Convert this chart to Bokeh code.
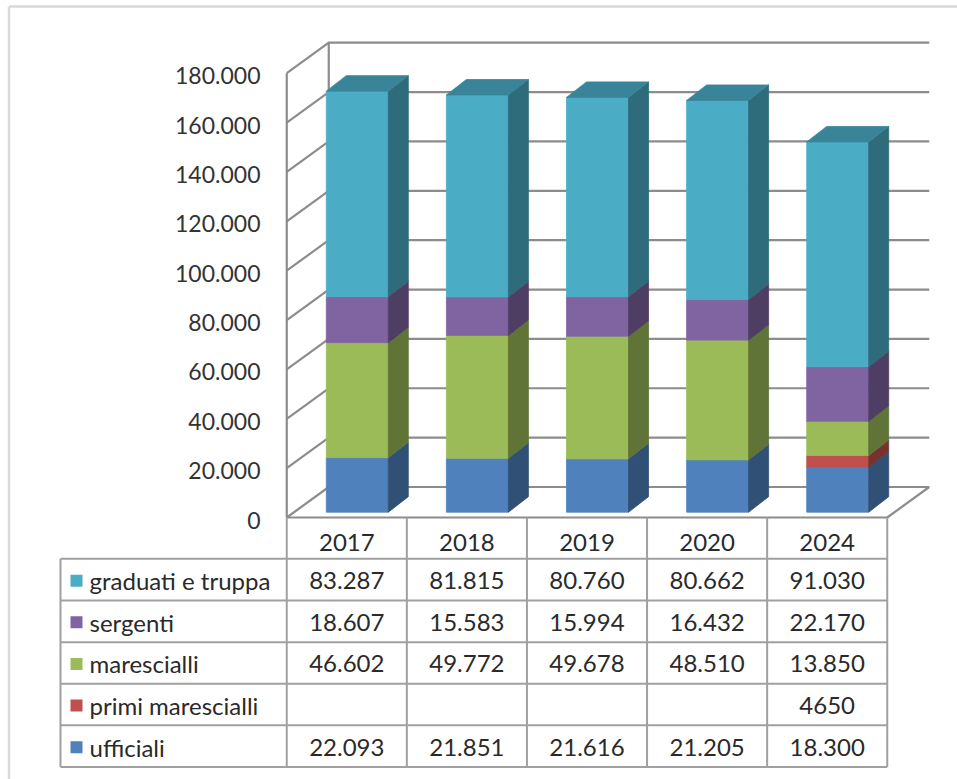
from bokeh.plotting import figure
from bokeh.models import Range1d, ColumnDataSource
from bokeh.core.properties import value
from bokeh.embed import file_html
from bokeh.resources import INLINE

# ---------------- data ----------------
years = ["2017", "2018", "2019", "2020", "2024"]
ufficiali = [22093, 21851, 21616, 21205, 18300]
primi_marescialli = [0, 0, 0, 0, 4650]
marescialli = [46602, 49772, 49678, 48510, 13850]
sergenti = [18607, 15583, 15994, 16432, 22170]
graduati_e_truppa = [83287, 81815, 80760, 80662, 91030]
y_ticks = [0, 20000, 40000, 60000, 80000, 100000, 120000, 140000, 160000, 180000]

# stacking order bottom -> top
series_names = ["ufficiali", "primi marescialli", "marescialli", "sergenti", "graduati e truppa"]
series_values = [ufficiali, primi_marescialli, marescialli, sergenti, graduati_e_truppa]
front_colors = ["#4F81BD", "#C0504D", "#9BBB59", "#8064A2", "#4BACC6"]
side_colors = ["#315075", "#773230", "#607437", "#4F3E64", "#2E6B7B"]
top_colors = ["#3D6493", "#943E3B", "#78914A", "#634E7E", "#3A8499"]


def fmt(v):
    return f"{v:,}".replace(",", ".")


# table labels (the original shows "4650" without separator)
table_labels = {
    "ufficiali": [fmt(v) for v in ufficiali],
    "primi marescialli": ["", "", "", "", "4650"],
    "marescialli": [fmt(v) for v in marescialli],
    "sergenti": [fmt(v) for v in sergenti],
    "graduati e truppa": [fmt(v) for v in graduati_e_truppa],
}

# ---------------- layout constants (pixel based) ----------------
W, H = 957, 779
PX_CAT = 120.1     # px per category
PX_X0 = 346.3      # px of first category centre
PX_Y0 = 517.0      # px of value 0 on the front plane
UPP = 180000 / 444.3   # value units per px


def dx(px):
    return px / PX_CAT


def dy(px):
    return px * UPP


def xa(px):  # absolute px -> x data
    return (px - PX_X0) / PX_CAT


def ya(py):  # absolute px (from top) -> y data
    return (PX_Y0 - py) * UPP


p = figure(width=W, height=H, output_backend="svg", toolbar_location=None,
           x_range=Range1d(xa(0), xa(W)), y_range=Range1d(ya(H), ya(0)),
           min_border=0, min_border_left=0, min_border_right=0,
           min_border_top=0, min_border_bottom=0)
p.axis.visible = False
p.grid.visible = False
p.outline_line_color = None
p.background_fill_color = "white"
p.border_fill_color = "white"

FONT = value("Lato")
TXT = "#2a2a2a"
WALL = "#8c8c8c"
TAB = "#a0a0a0"

n = len(years)
xl = -0.5
xr = n - 0.5
WDX = dx(42)
WDY = dy(30.5)

# outer border (left and top visible)
p.line([xa(8.5), xa(8.5)], [ya(6), ya(H)], line_color="#d9d9d9", line_width=2.5)
p.line([xa(8.5), xa(W)], [ya(6), ya(6)], line_color="#d9d9d9", line_width=2.5)

# walls / gridlines
xs, ys = [], []
for t in y_ticks:
    xs.append([xl, xl + WDX, xr + WDX])
    ys.append([t, t + WDY, t + WDY])
xs.append([xl, xl]); ys.append([0, y_ticks[-1]])
xs.append([xl + WDX, xl + WDX]); ys.append([WDY, y_ticks[-1] + WDY])
xs.append([xl, xr, xr + WDX]); ys.append([0, 0, WDY])
p.multi_line(xs, ys, line_color=WALL, line_width=2.2)

# y tick labels
p.text(x=[xa(260)] * len(y_ticks), y=[t - dy(2.5) for t in y_ticks],
       text=[fmt(t) for t in y_ticks], text_font=FONT, text_font_size="23px",
       text_align="right", text_baseline="middle", text_color="#333333")

# bars
BW = dx(62)
BSH = dx(10.5)
BY0 = dy(5.3)
BDX = dx(20)
BDY = dy(15.5)

pxs, pys, pcol = [], [], []
for i in range(n):
    x0 = i + BSH - BW / 2
    x1 = i + BSH + BW / 2
    base = 0
    top_idx = None
    for k, vals in enumerate(series_values):
        v = vals[i]
        if not v:
            continue
        yb = base + BY0
        yt = base + v + BY0
        # front
        pxs.append([x0, x1, x1, x0]); pys.append([yb, yb, yt, yt]); pcol.append(front_colors[k])
        # side
        pxs.append([x1, x1 + BDX, x1 + BDX, x1]); pys.append([yb, yb + BDY, yt + BDY, yt]); pcol.append(side_colors[k])
        base += v
        top_idx = k
    yt = base + BY0
    pxs.append([x0, x0 + BDX, x1 + BDX, x1]); pys.append([yt, yt + BDY, yt + BDY, yt]); pcol.append(top_colors[top_idx])

src = ColumnDataSource(dict(xs=pxs, ys=pys, c=pcol))
p.patches("xs", "ys", source=src, fill_color="c", line_color="c", line_width=0.8)

# ---------------- data table ----------------
row_lines_px = [558.3, 600.0, 641.7, 683.2, 724.8, 766.5]
left_px = 60
txs, tys = [], []
for r in row_lines_px:
    txs.append([xa(left_px), xr]); tys.append([ya(r), ya(r)])
for i in range(n + 1):
    txs.append([xl + i, xl + i]); tys.append([0, ya(row_lines_px[-1])])
txs.append([xa(left_px), xa(left_px)]); tys.append([ya(row_lines_px[0]), ya(row_lines_px[-1])])
p.multi_line(txs, tys, line_color=TAB, line_width=2)

TFS = "24px"
# header
p.text(x=list(range(n)), y=[ya(542)] * n, text=years, text_font=FONT, text_font_size=TFS,
       text_align="center", text_baseline="middle", text_color=TXT)

table_order = list(reversed(range(len(series_names))))  # top row = top series
for r, k in enumerate(table_order):
    cy = ya((row_lines_px[r] + row_lines_px[r + 1]) / 2 + 1)
    name = series_names[k]
    p.scatter([xa(76)], [cy], marker="square", size=12, fill_color=front_colors[k], line_color=None)
    p.text(x=[xa(89)], y=[cy], text=[name], text_font=FONT, text_font_size=TFS,
           text_align="left", text_baseline="middle", text_color=TXT)
    labels = table_labels[name]
    p.text(x=list(range(n)), y=[cy] * n, text=labels, text_font=FONT, text_font_size=TFS,
           text_align="center", text_baseline="middle", text_color=TXT)

open("out.html", "w").write(file_html(p, INLINE))
